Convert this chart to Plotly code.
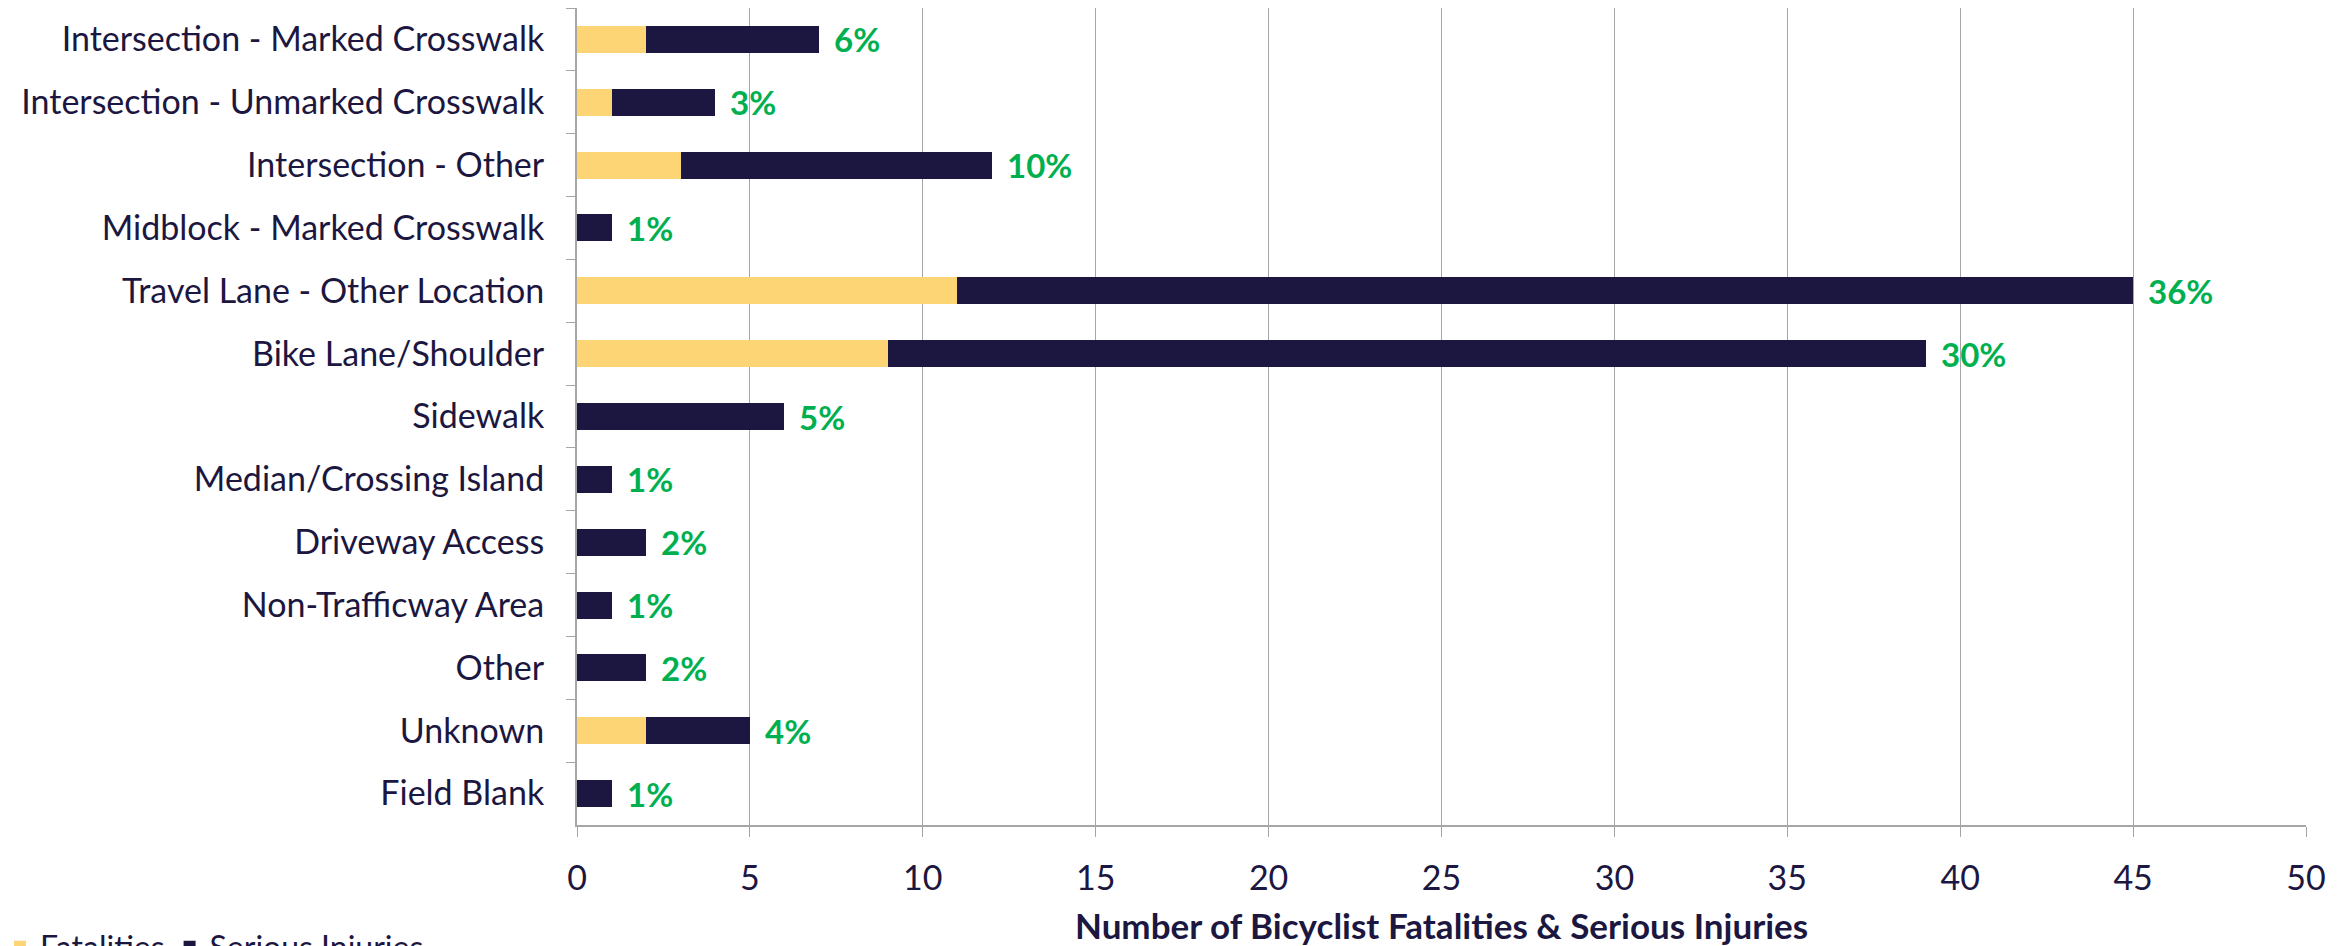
import plotly.graph_objects as go

# Bicyclist fatalities and serious injuries by crash location
locations = [
    "Intersection - Marked Crosswalk",
    "Intersection - Unmarked Crosswalk",
    "Intersection - Other",
    "Midblock - Marked Crosswalk",
    "Travel Lane - Other Location",
    "Bike Lane/Shoulder",
    "Sidewalk",
    "Median/Crossing Island",
    "Driveway Access",
    "Non-Trafficway Area",
    "Other",
    "Unknown",
    "Field Blank",
]
fatalities = [2, 1, 3, 0, 11, 9, 0, 0, 0, 0, 0, 2, 0]
serious_injuries = [5, 3, 9, 1, 34, 30, 6, 1, 2, 1, 2, 3, 1]
share_labels = ["6%", "3%", "10%", "1%", "36%", "30%", "5%", "1%", "2%", "1%", "2%", "4%", "1%"]
x_ticks = [0, 5, 10, 15, 20, 25, 30, 35, 40, 45, 50]
x_title = "Number of Bicyclist Fatalities & Serious Injuries"

NAVY = "#1C1740"
GOLD = "#FDD575"
GREEN = "#00B050"
GRID = "#A6A6A6"
FONT = "Lato"

fig = go.Figure()
fig.add_trace(go.Bar(
    name="Fatalities", y=locations, x=fatalities, orientation="h",
    marker=dict(color=GOLD, line=dict(width=0)),
))
fig.add_trace(go.Bar(
    name="Serious Injuries", y=locations, x=serious_injuries, orientation="h",
    marker=dict(color=NAVY, line=dict(width=0)),
))

# percentage share written just past the end of each stacked bar
for loc, f, s, lab in zip(locations, fatalities, serious_injuries, share_labels):
    fig.add_annotation(
        x=f + s, y=loc, text=lab, showarrow=False,
        xanchor="left", yanchor="middle", xshift=13,
        font=dict(family=FONT, size=33, color=GREEN, weight="bold"),
    )

# x-axis title placed below the tick labels
fig.add_annotation(
    xref="paper", yref="paper", x=0.5, y=0, yshift=-100,
    xanchor="center", yanchor="middle", showarrow=False, text=x_title,
    font=dict(family=FONT, size=35, color=NAVY, weight="bold"),
)

fig.update_layout(
    barmode="stack",
    bargap=0.57,
    width=2348, height=946,
    margin=dict(l=577, r=42, t=8, b=121, autoexpand=False),
    paper_bgcolor="white", plot_bgcolor="white",
    font=dict(family=FONT, color=NAVY, size=34),
    showlegend=True,
    legend=dict(
        orientation="h", xref="container", yref="container",
        x=0.0, y=0.028, xanchor="left", yanchor="top",
        traceorder="normal",
        font=dict(family=FONT, size=32, color=NAVY),
        itemwidth=30, tracegroupgap=0,
    ),
)
fig.update_xaxes(
    range=[0, 50], tickvals=x_ticks,
    showgrid=True, gridcolor=GRID, gridwidth=1,
    showline=True, linecolor=GRID, linewidth=2,
    ticks="outside", ticklen=10, tickcolor=GRID,
    ticklabelstandoff=12,
    tickfont=dict(family=FONT, size=34, color=NAVY),
    zeroline=False, automargin=False,
)
fig.update_yaxes(
    categoryorder="array", categoryarray=locations, autorange="reversed",
    showline=True, linecolor=GRID, linewidth=2,
    ticks="outside", ticklen=9, tickcolor=GRID, tickson="boundaries",
    ticklabelstandoff=24,
    tickfont=dict(family=FONT, size=34, color=NAVY),
    showgrid=False, automargin=False,
)

fig.write_html("out.html")
